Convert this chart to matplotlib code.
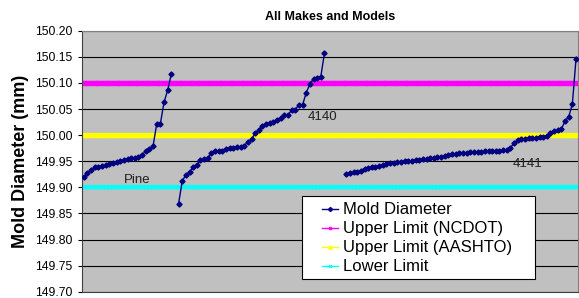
import numpy as np
import matplotlib.pyplot as plt
from matplotlib.patches import Rectangle

plt.rcParams['font.family'] = ['Liberation Sans', 'DejaVu Sans']

# number of categories on the x axis (samples, no labels shown)
n_pts = 136

# Pine molds (index 0-24)
pine = [149.919, 149.928, 149.933, 149.938, 149.939, 149.940, 149.942, 149.945,
        149.947, 149.949, 149.950, 149.952, 149.955, 149.956, 149.956, 149.958,
        149.962, 149.970, 149.973, 149.979, 150.022, 150.022, 150.063, 150.086,
        150.117]
pine_start = 0

# 4140 molds (index 26-66)
m4140 = [149.869, 149.912, 149.924, 149.929, 149.938, 149.942, 149.952, 149.954,
         149.957, 149.965, 149.970, 149.970, 149.970, 149.973, 149.975, 149.976,
         149.978, 149.978, 149.980, 149.987, 149.992, 150.004, 150.010, 150.018,
         150.022, 150.024, 150.026, 150.028, 150.033, 150.038, 150.038, 150.048,
         150.049, 150.058, 150.058, 150.081, 150.098, 150.108, 150.109, 150.112,
         150.157]
m4140_start = 26

# 4141 molds (index 72-135)
m4141 = [149.925, 149.928, 149.929, 149.930, 149.932, 149.936, 149.937, 149.938,
         149.939, 149.940, 149.943, 149.945, 149.946, 149.947, 149.948, 149.949,
         149.950, 149.950, 149.951, 149.952, 149.953, 149.954, 149.955, 149.956,
         149.957, 149.958, 149.959, 149.960, 149.962, 149.963, 149.964, 149.965,
         149.966, 149.966, 149.967, 149.967, 149.968, 149.968, 149.969, 149.969,
         149.970, 149.970, 149.970, 149.971, 149.972, 149.976, 149.984, 149.990,
         149.992, 149.993, 149.994, 149.994, 149.995, 149.996, 149.997, 149.999,
         150.004, 150.007, 150.010, 150.012, 150.027, 150.035, 150.060, 150.146]
m4141_start = 72

upper_ncdot = 150.10
upper_aashto = 150.00
lower_limit = 149.90

yticks = [149.70, 149.75, 149.80, 149.85, 149.90, 149.95,
          150.00, 150.05, 150.10, 150.15, 150.20]

# build the single series with blanks between groups
diam = np.full(n_pts, np.nan)
for start, vals in [(pine_start, pine), (m4140_start, m4140), (m4141_start, m4141)]:
    diam[start:start + len(vals)] = vals

x = np.arange(n_pts)

fig = plt.figure(figsize=(5.79, 2.98), dpi=100)
ax = fig.add_axes([0.1416, 0.021, 0.8564, 0.876])
ax.set_facecolor('#c0c0c0')

for yv in yticks:
    ax.axhline(yv, color='black', lw=0.8, zorder=1)

ax.plot(x, np.full(n_pts, upper_ncdot), color='#ff00ff', lw=3, marker='s',
        ms=2.5, label='Upper Limit (NCDOT)', zorder=2)
ax.plot(x, np.full(n_pts, upper_aashto), color='#ffff00', lw=3, marker='^',
        ms=3, label='Upper Limit (AASHTO)', zorder=2)
ax.plot(x, np.full(n_pts, lower_limit), color='#00ffff', lw=3, marker='x',
        ms=2.5, mew=0.8, label='Lower Limit', zorder=2)
ax.plot(x, diam, color='#000080', lw=1, marker='D', ms=2.6,
        label='Mold Diameter', zorder=3)

ax.text(10.9, 149.914, 'Pine', fontsize=9.5, va='center', color='#202020')
ax.text(61.5, 150.034, '4140', fontsize=9.5, va='center', color='#202020')
ax.text(117.5, 149.944, '4141', fontsize=9.5, va='center', color='#202020')

ax.set_xlim(-0.5, n_pts - 0.5)
ax.set_ylim(149.70, 150.20)
ax.set_yticks(yticks)
ax.set_yticklabels(['%.2f' % v for v in yticks], fontsize=8.7)
ax.set_xticks([])
ax.tick_params(axis='y', length=3, width=0.8, pad=4)
for side in ['top', 'right']:
    ax.spines[side].set_color('#808080')
ax.spines['left'].set_color('#404040')
ax.spines['bottom'].set_color('#404040')

ax.set_title('All Makes and Models', fontsize=9, fontweight='bold', pad=8)
ax.set_ylabel('Mold Diameter (mm)', fontsize=13, fontweight='bold', labelpad=4)

# legend box drawn by hand (Excel style, wide padding)
ax.add_patch(Rectangle((0.4435, 0.050), 0.4695, 0.316, transform=ax.transAxes,
                       facecolor='white', edgecolor='black', lw=0.8, zorder=4))

handles, labels = ax.get_legend_handles_labels()
order = [3, 0, 1, 2]
leg = ax.legend([handles[i] for i in order], [labels[i] for i in order],
                loc='upper left', bbox_to_anchor=(0.484, 0.342), fontsize=12,
                frameon=False, handlelength=0.96, handletextpad=0.3,
                borderpad=0, labelspacing=0.24, markerscale=0.8,
                borderaxespad=0)
leg.set_zorder(5)
for h in leg.get_lines():
    h.set_linewidth(1)

fig.savefig('out.png', dpi=100)
